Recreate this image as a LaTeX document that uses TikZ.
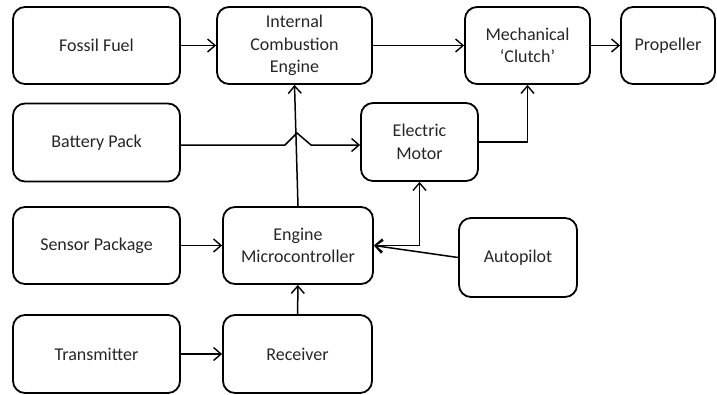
\documentclass[tikz,border=0pt]{standalone}
\usepackage{fontspec}
\setmainfont{Carlito}
\usetikzlibrary{arrows.meta,calc}
\begin{document}
\begin{tikzpicture}[x=1pt,y=-1pt,
  box/.style={draw=black, line width=1.8pt, rounded corners=12pt, align=center,
    inner sep=0pt, font=\fontsize{18}{22.5}\selectfont, text=black!85},
  tip/.style={Straight Barb[length=7.5pt,width=13pt,line width=1.4pt]},
  conn/.style={line width=1.5pt, -{Straight Barb[length=7.5pt,width=13pt,line width=1.4pt]}},
  conn2/.style={line width=1.5pt, {Straight Barb[length=7.5pt,width=13pt,line width=1.4pt]}-{Straight Barb[length=7.5pt,width=13pt,line width=1.4pt]}}]
\useasboundingbox (0,0) rectangle (717,394);
\node[box, minimum width=167pt, minimum height=77pt] (fossil) at (96.5,45.5) {Fossil Fuel};
\node[box, minimum width=155pt, minimum height=77pt] (ice) at (294.5,45.5) {Internal\\Combustion\\Engine};
\node[box, minimum width=125pt, minimum height=77pt] (clutch) at (527.5,45.5) {Mechanical\\‘Clutch’};
\node[box, minimum width=94pt, minimum height=77pt] (prop) at (668,45.5) {Propeller};
\node[box, minimum width=167pt, minimum height=78pt] (battery) at (96.5,142.5) {Battery Pack};
\node[box, minimum width=117pt, minimum height=78pt] (motor) at (419.5,142) {Electric\\Motor};
\node[box, minimum width=167pt, minimum height=77pt] (sensor) at (96.5,245.5) {Sensor Package};
\node[box, minimum width=150pt, minimum height=77pt] (micro) at (298,245.5) {Engine\\Microcontroller};
\node[box, minimum width=118pt, minimum height=79pt] (auto) at (518,257.5) {Autopilot};
\node[box, minimum width=167pt, minimum height=78pt] (trans) at (96.5,354) {Transmitter};
\node[box, minimum width=149pt, minimum height=78pt] (recv) at (297.5,354) {Receiver};

\coordinate (hopA) at (285,145);
\coordinate (hopP) at (297,133);
\coordinate (hopB) at (311,145);

\draw[conn] (fossil) -- (ice);
\draw[conn] (ice) -- (clutch);
\draw[conn] (clutch) -- (prop);
\draw[conn] ([yshift=-2.5pt]battery.east) -- (hopA) -- (hopP) -- (hopB) -- (hopB -| motor.west);
\draw[conn] (motor.east) -| (clutch.south);
\draw[conn] (micro.north) -- (ice.south);
\draw[conn2] (micro.east) -| (motor.south);
\draw[conn] (auto.west) -- (micro.east);
\draw[conn] (sensor) -- (micro);
\draw[conn] (trans) -- (recv);
\draw[conn] (recv) -- (micro);
\end{tikzpicture}
\end{document}
